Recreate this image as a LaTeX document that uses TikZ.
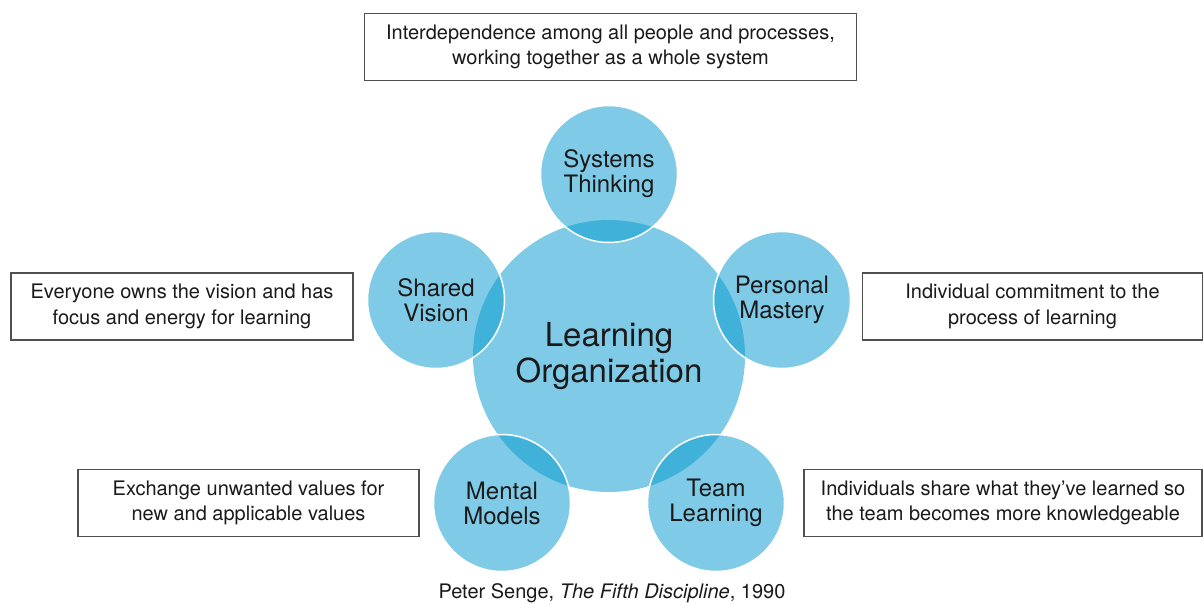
\documentclass[tikz,border=0pt]{standalone}
\usepackage{fontspec}
\setmainfont{TeX Gyre Heros}
\usetikzlibrary{positioning}
\definecolor{lightblue}{RGB}{127,202,230}
\definecolor{darkblue}{RGB}{64,178,218}
\definecolor{textgray}{RGB}{26,26,26}
\definecolor{boxgray}{RGB}{80,80,80}
\tikzset{
every node/.style={text=textgray},
infobox/.style={draw=boxgray, line width=1.3pt, minimum height=67pt, inner sep=0pt,
  align=center, font=\fontsize{20}{25.5}\selectfont},
pillar/.style={circle, minimum size=137pt, inner sep=0pt, align=center,
  font=\fontsize{24}{25}\selectfont}}

\begin{document}
\begin{tikzpicture}[x=1pt,y=-1pt]
        \useasboundingbox (0,0) rectangle (1204,604);
        % centre circle
        \node[circle, fill=lightblue, minimum size=272pt, inner sep=0pt, align=center,
              font=\fontsize{33}{36}\selectfont] (lo) at (609,356) {Learning\\Organization};
        % the five disciplines
        \foreach \nm/\px/\py/\txt in {st/609/174/{Systems\\Thinking},
                                      pm/782/300/{Personal\\Mastery},
                                      tl/716/503/{Team\\Learning},
                                      mm/502/503/{Mental\\Models},
                                      sv/436/300/{Shared\\Vision}}{
            \node[pillar, fill=lightblue] (\nm) at (\px,\py) {};
            \begin{scope}
                \clip (lo.center) circle (136pt);
                \fill[darkblue] (\nm.center) circle (68.5pt);
            \end{scope}
            \node[pillar, draw=white, line width=1.5pt] (\nm txt) at (\nm.center) {\txt};
        }
        % explanations
        \node[infobox, minimum width=492pt] (bst) at (610.5,47) {Interdependence among all people and processes,\\working together as a whole system};
        \node[infobox, minimum width=342pt] (bsv) at (182,306.5) {Everyone owns the vision and has\\focus and energy for learning};
        \node[infobox, minimum width=340pt] (bpm) at (1032.5,306.5) {Individual commitment to the\\process of learning};
        \node[infobox, minimum width=341pt] (bmm) at (248.5,503) {Exchange unwanted values for\\new and applicable values};
        \node[infobox, minimum width=398pt] (btl) at (1003,503) {Individuals share what they’ve learned so\\the team becomes more knowledgeable};
        \node[anchor=base, font=\fontsize{20}{24}\selectfont] (src) at (612,598) {Peter Senge, \textit{The Fifth Discipline}, 1990};
\end{tikzpicture}
\end{document}
